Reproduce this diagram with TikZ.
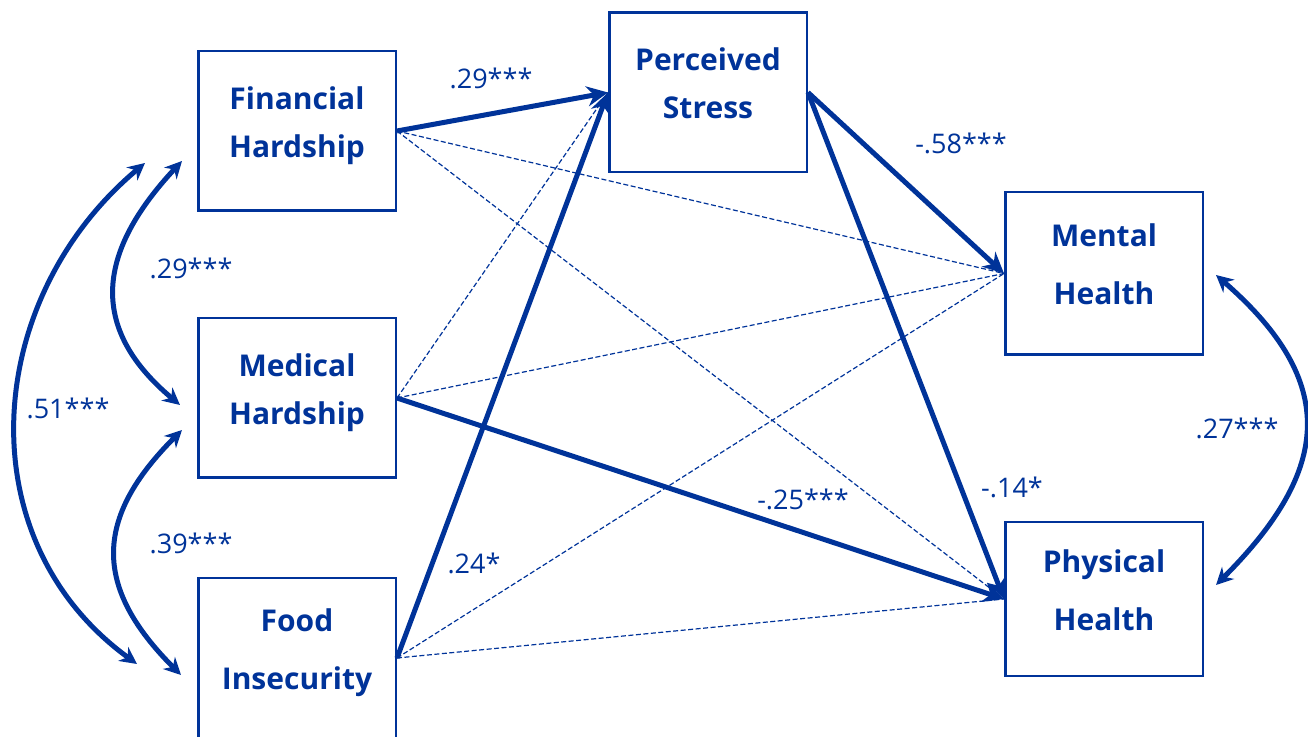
\documentclass[tikz,border=0pt]{standalone}
\usepackage{fontspec}
\setmainfont{Open Sans}
\usetikzlibrary{arrows.meta}
\definecolor{semblue}{RGB}{0,51,153}
\tikzset{
	var_box/.style = {rectangle, draw=semblue, line width=2.5pt, text=semblue,
		align=center, inner sep=0pt, minimum width=197.5pt, minimum height=159.5pt,
		text depth=18pt, font=\fontsize{30}{#1}\selectfont\bfseries},% variable observee
	var_box/.default = 48,
	path_s/.style = {draw=semblue, line width=5pt,
		-{Stealth[length=21pt,width=20pt]}},% chemin significatif
	path_ns/.style = {draw=semblue, line width=1.2pt,
		dash pattern=on 5pt off 2.5pt},% chemin non significatif
	cov_arc/.style = {draw=semblue, line width=5pt,
		{Stealth[length=17pt,width=17pt]}-{Stealth[length=17pt,width=17pt]}},% covariance
	coef/.style = {text=semblue, inner sep=0pt, font=\fontsize{27}{32}\selectfont}
}

\begin{document}
\begin{tikzpicture}[x=1pt,y=1pt]
	\useasboundingbox (0,0) rectangle (1308,736);
	% predicteurs
	\node [var_box] (fh) at (297,605) {Financial\\Hardship};
	\node [var_box] (mh) at (297,338) {Medical\\Hardship};
	\node [var_box=58] (fi) at (297,78) {Food\\Insecurity};
	% mediateur et resultats
	\node [var_box] (ps) at (708,643.5) {Perceived\\Stress};
	\node [var_box=58, minimum height=162.5pt] (ment) at (1104,462.5) {Mental\\Health};
	\node [var_box=58, minimum height=153.5pt] (phys) at (1104,137) {Physical\\Health};

	% chemins non significatifs
	\draw [path_ns] (fh.east) -- (ment.west);
	\draw [path_ns] (fh.east) -- (phys.west);
	\draw [path_ns] (mh.east) -- (ps.west);
	\draw [path_ns] (mh.east) -- (ment.west);
	\draw [path_ns] (fi.east) -- (ment.west);
	\draw [path_ns] (fi.east) -- (phys.west);

	% chemins significatifs
	\draw [path_s] (fh.east) -- (ps.west);
	\draw [path_s] (fi.east) -- (ps.west);
	\draw [path_s] (mh.east) -- (phys.west);
	\draw [path_s] (ps.east) -- (ment.west);
	\draw [path_s] (ps.east) -- (phys.west);

	% covariances
	\draw [cov_arc] ([shift={(-15,-30)}]fh.west) to[out=227, in=140, looseness=1.28]
		([shift={(-17,-7)}]mh.west);
	\draw [cov_arc] ([shift={(-15,-32)}]mh.west) to[out=225, in=135, looseness=1.3]
		([shift={(-16,-17)}]fi.west);
	\draw [cov_arc] ([shift={(-52,-32)}]fh.west) to[out=220, in=144, looseness=1.08]
		([shift={(-60,-6)}]fi.west);
	\draw [cov_arc] ([shift={(12,-1.5)}]ment.east) to[out=-41, in=45, looseness=1.35]
		([shift={(12,14)}]phys.east);

	% coefficients
	\node [coef] (b_fh_ps) at (491,658) {.29***};
	\node [coef] (r_fh_mh) at (191,468) {.29***};
	\node [coef] (r_fh_fi) at (68,328) {.51***};
	\node [coef] (r_mh_fi) at (191,193) {.39***};
	\node [coef] (b_fi_ps) at (474,173) {.24*};
	\node [coef] (b_mh_phys) at (803,237) {-.25***};
	\node [coef] (b_ps_phys) at (1012,249) {-.14*};
	\node [coef] (b_ps_ment) at (961,593) {-.58***};
	\node [coef] (r_ment_phys) at (1237,308) {.27***};
\end{tikzpicture}
\end{document}
